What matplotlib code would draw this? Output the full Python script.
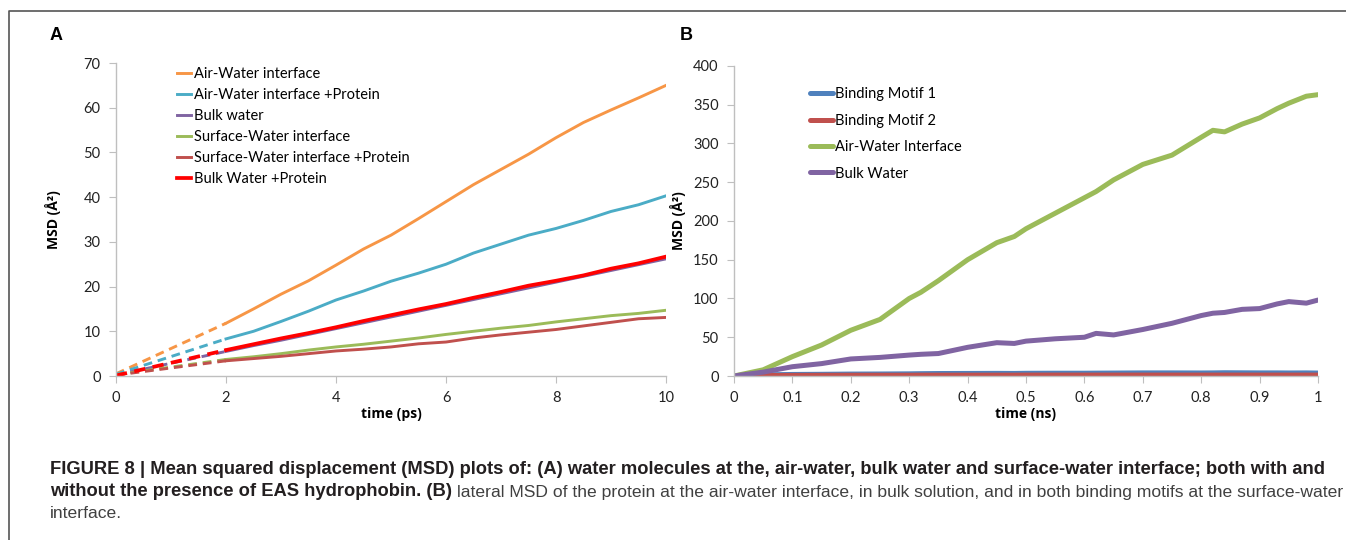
import matplotlib
matplotlib.use("Agg")
import matplotlib.pyplot as plt
from matplotlib.lines import Line2D

# ---- panel A data (time in ps, MSD in A^2) ----
a_time = [2, 2.5, 3, 3.5, 4, 4.5, 5, 5.5, 6, 6.5, 7, 7.5, 8, 8.5, 9, 9.5, 10]
a_air = [11.8, 15.0, 18.3, 21.3, 24.8, 28.4, 31.5, 35.2, 39.0, 42.8, 46.2, 49.6, 53.3, 56.7, 59.5, 62.2, 65.0]
a_air_prot = [8.3, 10.0, 12.2, 14.5, 17.0, 19.0, 21.2, 23.0, 25.0, 27.5, 29.5, 31.5, 33.0, 34.8, 36.8, 38.3, 40.3]
a_bulk = [5.5, 6.8, 8.0, 9.3, 10.6, 11.9, 13.2, 14.5, 15.8, 17.1, 18.4, 19.7, 21.0, 22.3, 23.6, 24.9, 26.2]
a_surf = [3.7, 4.3, 5.0, 5.8, 6.5, 7.1, 7.8, 8.5, 9.3, 10.0, 10.7, 11.3, 12.1, 12.8, 13.5, 14.0, 14.7]
a_surf_prot = [3.4, 3.9, 4.4, 5.0, 5.6, 6.0, 6.5, 7.2, 7.6, 8.5, 9.2, 9.8, 10.4, 11.2, 12.0, 12.8, 13.1]
a_bulk_prot = [5.8, 7.1, 8.4, 9.6, 10.9, 12.3, 13.6, 14.9, 16.1, 17.5, 18.8, 20.2, 21.3, 22.5, 24.0, 25.2, 26.7]
# value at t = 0 (dashed extrapolation up to t = 2)
a_start = [0.5, 0.4, 0.2, 0.3, 0.2, 0.1]
a_labels = ["Air-Water interface", "Air-Water interface +Protein", "Bulk water",
            "Surface-Water interface", "Surface-Water interface +Protein", "Bulk Water +Protein"]
a_colors = ["#f79646", "#4bacc6", "#8064a2", "#9bbb59", "#c0504d", "#ff0000"]

# ---- panel B data (time in ns) ----
b_time = [0, 0.05, 0.1, 0.15, 0.2, 0.25, 0.3, 0.32, 0.35, 0.4, 0.45, 0.48, 0.5, 0.55, 0.6,
          0.62, 0.65, 0.7, 0.75, 0.8, 0.82, 0.84, 0.87, 0.9, 0.93, 0.95, 0.98, 1.0]
b_motif1 = [0, 1.5, 2.0, 2.2, 2.5, 2.6, 2.8, 3.0, 3.2, 3.3, 3.4, 3.3, 3.5, 3.6, 3.6,
            3.7, 3.8, 4.0, 4.0, 3.9, 4.0, 4.2, 4.1, 4.0, 4.0, 3.9, 4.0, 3.8]
b_motif2 = [0, 0.6, 0.8, 0.9, 1.0, 1.0, 1.0, 1.1, 1.1, 1.1, 1.1, 1.1, 1.2, 1.2, 1.2,
            1.2, 1.2, 1.2, 1.2, 1.2, 1.2, 1.2, 1.2, 1.2, 1.2, 1.2, 1.2, 1.2]
b_air = [0, 8, 25, 40, 59, 73, 100, 108, 123, 150, 172, 180, 190, 210, 230,
         238, 253, 273, 285, 308, 317, 315, 325, 333, 345, 352, 361, 363]
b_bulk = [0, 5, 12, 16, 22, 24, 27, 28, 29, 37, 43, 42, 45, 48, 50,
          55, 53, 60, 68, 78, 81, 82, 86, 87, 93, 96, 94, 98]
b_labels = ["Binding Motif 1", "Binding Motif 2", "Air-Water Interface", "Bulk Water"]
b_colors = ["#4f81bd", "#c0504d", "#9bbb59", "#8064a2"]

TICK_FONT = "Lato"
AXIS_GRAY = "#bfbfbf"


def style_axes(ax):
    for side in ("top", "right"):
        ax.spines[side].set_visible(False)
    for side in ("left", "bottom"):
        ax.spines[side].set_color(AXIS_GRAY)
        ax.spines[side].set_linewidth(1.0)
    ax.tick_params(direction="out", length=5, color=AXIS_GRAY, labelsize=10.5,
                   labelcolor="#222222", pad=6)
    for lab in ax.get_xticklabels() + ax.get_yticklabels():
        lab.set_family(TICK_FONT)


fig = plt.figure(figsize=(13.46, 5.40), dpi=100)

# ---- panel A ----
axA = fig.add_axes([0.0862, 0.3037, 0.4086, 0.5796])
a_series = [a_air, a_air_prot, a_bulk, a_surf, a_surf_prot, a_bulk_prot]
handles = []
for vals, v0, lab, col in zip(a_series, a_start, a_labels, a_colors):
    lw = 2.7 if col == "#ff0000" else 2.1
    axA.plot([0, a_time[0]], [v0, vals[0]], color=col, lw=lw, ls=(0, (3, 2)))
    h, = axA.plot(a_time, vals, color=col, lw=lw, label=lab)
    handles.append(h)
axA.set_xlim(0, 10)
axA.set_ylim(0, 70)
axA.set_xticks(range(0, 11, 2))
axA.set_yticks(range(0, 71, 10))
style_axes(axA)
axA.set_xlabel("time (ps)", fontfamily="Open Sans", fontweight="bold", fontsize=10, labelpad=1)
axA.set_ylabel("MSD (Å²)", fontfamily="Open Sans", fontweight="bold", fontsize=10, labelpad=16)
axA.legend(handles=handles, loc="upper left", bbox_to_anchor=(0.1, 1.005), frameon=False,
           prop={"family": TICK_FONT, "size": 10.5}, handlelength=1.0, handletextpad=0.15,
           labelspacing=0.48, borderaxespad=0)

# ---- panel B ----
axB = fig.add_axes([0.5453, 0.3037, 0.4339, 0.5741])
handles = []
for vals, lab, col in zip([b_motif1, b_motif2, b_air, b_bulk], b_labels, b_colors):
    h, = axB.plot(b_time, vals, color=col, lw=3.6, label=lab, solid_capstyle="round")
    handles.append(h)
axB.set_xlim(0, 1)
axB.set_ylim(0, 400)
axB.set_xticks([i / 10 for i in range(11)])
axB.set_xticklabels(["0", "0.1", "0.2", "0.3", "0.4", "0.5", "0.6", "0.7", "0.8", "0.9", "1"])
axB.set_yticks(range(0, 401, 50))
style_axes(axB)
axB.set_xlabel("time (ns)", fontfamily="Open Sans", fontweight="bold", fontsize=10, labelpad=1)
axB.set_ylabel("MSD (Å²)", fontfamily="Open Sans", fontweight="bold", fontsize=10, labelpad=5)
axB.legend(handles=handles, loc="upper left", bbox_to_anchor=(0.12, 0.95), frameon=False,
           prop={"family": TICK_FONT, "size": 10.5}, handlelength=1.6, handletextpad=0.15,
           labelspacing=0.85, borderaxespad=0)

# panel letters
fig.text(50 / 1346, 1 - 36 / 540, "A", fontfamily="Liberation Sans", fontweight="bold",
         fontsize=13, va="center")
fig.text(680 / 1346, 1 - 36 / 540, "B", fontfamily="Liberation Sans", fontweight="bold",
         fontsize=13, va="center")

# figure frame (left and top edges only)
fig.add_artist(Line2D([9 / 1346, 9 / 1346, 1.0], [0.0, 1 - 11 / 540, 1 - 11 / 540],
                      transform=fig.transFigure, color="#555555", lw=1.2))

# ---- caption, bold and regular runs placed one after another ----
bold_size = 13.2
reg_size = 12.6
bold_col = "#231f20"
reg_col = "#404040"
runs = [
    [("FIGURE 8 | Mean squared displacement (MSD) plots of: (A) water molecules at the, air-water, "
      "bulk water and surface-water interface; both with and", "bold")],
    [("without the presence of EAS hydrophobin. (B) ", "bold"),
     ("lateral MSD of the protein at the air-water interface, in bulk solution, and in both binding "
      "motifs at the surface-water", "normal")],
    [("interface.", "normal")],
]
line_y = [470, 492, 514]
renderer = fig.canvas.get_renderer()
for parts, ypx in zip(runs, line_y):
    x = 50 / 1346
    for txt, weight in parts:
        bold = weight == "bold"
        t = fig.text(x, 1 - ypx / 540, txt, fontfamily="Liberation Sans", fontweight=weight,
                     fontsize=bold_size if bold else reg_size, va="center", ha="left",
                     color=bold_col if bold else reg_col)
        bb = t.get_window_extent(renderer=renderer)
        x += bb.width / fig.bbox.width

fig.savefig("out.png", dpi=100)
